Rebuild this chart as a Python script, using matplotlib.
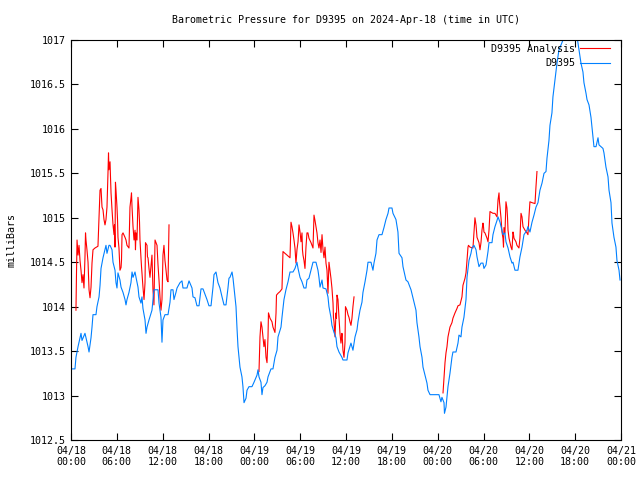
import numpy as np
import matplotlib
matplotlib.use('Agg')
import matplotlib.pyplot as plt
import matplotlib.dates as mdates
from datetime import datetime, timedelta

# hours since 2024-04-18 00:00 UTC, pressure in mb
obs_h = [0.13, 0.52, 0.65, 0.92, 1.18, 1.31, 1.44, 1.83, 1.96, 2.23, 2.36, 2.62, 2.75, 2.88, 3.27, 3.40,
         3.67, 3.80, 3.93, 4.19, 4.45, 4.58, 4.71, 4.97, 5.11, 5.37, 5.50, 5.76, 5.89, 6.02, 6.15, 6.41,
         6.55, 6.81, 7.07, 7.20, 7.33, 7.59, 7.85, 7.99, 8.12, 8.38, 8.51, 8.77, 8.90, 9.16, 9.29, 9.42,
         9.69, 9.82, 9.95, 10.21, 10.60, 10.86, 11.39, 11.52, 11.78, 11.91, 12.04, 12.30, 12.70, 12.96,
         13.09, 13.35, 13.48, 13.74, 13.88, 14.27, 14.53, 14.66, 15.18, 15.45, 15.84, 15.97, 16.23, 16.49,
         16.76, 17.02, 17.28, 17.67, 17.80, 18.06, 18.33, 18.59, 18.72, 18.98, 19.24, 19.50, 19.77, 20.03,
         20.29, 20.55, 20.68, 20.81, 21.08, 21.21, 21.34, 21.60, 21.73, 21.86, 21.99, 22.12, 22.38, 22.51,
         22.65, 22.91, 23.04, 23.30, 23.69, 23.96, 24.35, 24.48, 24.61, 24.87, 25.00, 25.13, 25.39, 25.66,
         25.79, 26.18, 26.44, 26.70, 26.97, 27.10, 27.49, 27.62, 27.88, 28.14, 28.41, 28.67, 29.06, 29.32,
         29.58, 29.72, 29.98, 30.24, 30.50, 30.76, 30.89, 31.15, 31.42, 31.68, 32.07, 32.33, 32.46, 32.60,
         32.86, 32.99, 33.38, 33.64, 33.77, 34.03, 34.16, 34.43, 34.69, 34.82, 35.08, 35.47, 35.60, 36.13,
         36.26, 36.65, 36.78, 36.91, 37.18, 37.44, 37.57, 37.83, 38.09, 38.22, 38.49, 38.75, 38.88, 39.27,
         39.53, 39.66, 39.92, 40.06, 40.32, 40.71, 40.97, 41.23, 41.50, 41.63, 42.02, 42.15, 42.54, 42.80,
         42.94, 43.33, 43.46, 43.85, 44.11, 44.51, 44.77, 45.16, 45.29, 45.55, 45.69, 45.95, 46.08, 46.34,
         46.60, 46.73, 47.00, 48.17, 48.43, 48.56, 48.83, 48.89, 49.09, 49.22, 49.35, 49.61, 49.87, 50.00,
         50.40, 50.66, 50.79, 51.05, 51.18, 51.44, 51.71, 51.84, 52.10, 52.36, 52.49, 52.75, 53.02, 53.15,
         53.41, 53.67, 53.93, 54.06, 54.33, 54.59, 54.72, 55.11, 55.24, 55.50, 55.77, 55.90, 56.16, 56.42,
         56.55, 56.81, 56.94, 57.21, 57.47, 57.73, 57.86, 58.12, 58.51, 58.77, 59.04, 59.30, 59.69, 59.82,
         60.08, 60.35, 60.61, 60.87, 61.13, 61.39, 61.66, 61.92, 62.18, 62.31, 62.57, 62.70, 62.96, 63.09,
         63.36, 63.62, 63.88, 64.27, 64.40, 64.93, 65.58, 66.24, 66.50, 66.76, 67.02, 67.15, 67.42, 67.55,
         67.81, 68.07, 68.20, 68.33, 68.46, 68.73, 68.99, 69.12, 69.38, 69.64, 69.77, 70.03, 70.30, 70.43,
         70.69, 70.82, 71.08, 71.34, 71.47, 71.74, 71.87]
obs_p = [1013.30, 1013.30, 1013.43, 1013.55, 1013.65, 1013.70, 1013.62, 1013.70, 1013.65, 1013.55, 1013.49,
         1013.65, 1013.77, 1013.91, 1013.91, 1014.00, 1014.11, 1014.24, 1014.43, 1014.55, 1014.64, 1014.69,
         1014.60, 1014.69, 1014.69, 1014.64, 1014.50, 1014.41, 1014.27, 1014.21, 1014.38, 1014.30, 1014.22,
         1014.16, 1014.08, 1014.02, 1014.08, 1014.16, 1014.27, 1014.39, 1014.33, 1014.39, 1014.33, 1014.22,
         1014.11, 1014.04, 1014.11, 1013.98, 1013.85, 1013.70, 1013.77, 1013.85, 1013.96, 1014.19, 1014.19,
         1014.04, 1013.88, 1013.60, 1013.85, 1013.91, 1013.91, 1014.05, 1014.19, 1014.19, 1014.08, 1014.16,
         1014.21, 1014.27, 1014.29, 1014.21, 1014.21, 1014.29, 1014.21, 1014.11, 1014.10, 1014.01, 1014.01,
         1014.20, 1014.20, 1014.11, 1014.08, 1014.01, 1014.01, 1014.22, 1014.36, 1014.39, 1014.27, 1014.21,
         1014.11, 1014.02, 1014.02, 1014.21, 1014.32, 1014.33, 1014.39, 1014.32, 1014.21, 1014.00, 1013.76,
         1013.55, 1013.43, 1013.32, 1013.21, 1013.10, 1012.92, 1012.97, 1013.06, 1013.10, 1013.10, 1013.15,
         1013.23, 1013.29, 1013.21, 1013.15, 1013.01, 1013.09, 1013.11, 1013.15, 1013.21, 1013.30, 1013.30,
         1013.43, 1013.51, 1013.66, 1013.77, 1013.88, 1014.08, 1014.19, 1014.28, 1014.39, 1014.39, 1014.43,
         1014.50, 1014.43, 1014.33, 1014.28, 1014.21, 1014.21, 1014.30, 1014.32, 1014.41, 1014.50, 1014.50,
         1014.41, 1014.33, 1014.22, 1014.30, 1014.21, 1014.20, 1014.11, 1014.00, 1013.88, 1013.79, 1013.71,
         1013.65, 1013.55, 1013.49, 1013.43, 1013.40, 1013.40, 1013.48, 1013.59, 1013.55, 1013.51, 1013.66,
         1013.74, 1013.83, 1013.96, 1014.05, 1014.16, 1014.28, 1014.41, 1014.50, 1014.50, 1014.41, 1014.49,
         1014.60, 1014.75, 1014.81, 1014.81, 1014.89, 1014.98, 1015.05, 1015.11, 1015.11, 1015.05, 1014.98,
         1014.84, 1014.60, 1014.55, 1014.45, 1014.30, 1014.28, 1014.19, 1014.10, 1013.96, 1013.82, 1013.66,
         1013.55, 1013.43, 1013.32, 1013.23, 1013.14, 1013.06, 1013.01, 1013.01, 1012.93, 1012.98, 1012.92,
         1012.80, 1012.87, 1012.98, 1013.10, 1013.25, 1013.43, 1013.49, 1013.49, 1013.59, 1013.68, 1013.66,
         1013.77, 1013.88, 1014.08, 1014.33, 1014.52, 1014.60, 1014.66, 1014.69, 1014.64, 1014.56, 1014.45,
         1014.49, 1014.49, 1014.43, 1014.47, 1014.62, 1014.72, 1014.72, 1014.81, 1014.90, 1014.97, 1015.01,
         1014.95, 1014.86, 1014.81, 1014.83, 1014.73, 1014.66, 1014.56, 1014.49, 1014.50, 1014.41, 1014.41,
         1014.56, 1014.67, 1014.81, 1014.86, 1014.90, 1014.84, 1014.95, 1015.03, 1015.12, 1015.17, 1015.31,
         1015.39, 1015.50, 1015.52, 1015.67, 1015.87, 1016.04, 1016.18, 1016.36, 1016.55, 1016.74, 1016.89,
         1016.97, 1017.00, 1017.05, 1017.08, 1017.04, 1016.89, 1016.74, 1016.64, 1016.52, 1016.40, 1016.33,
         1016.27, 1016.13, 1016.02, 1015.91, 1015.80, 1015.80, 1015.90, 1015.82, 1015.80, 1015.78, 1015.73,
         1015.57, 1015.46, 1015.31, 1015.17, 1014.94, 1014.78, 1014.67, 1014.52, 1014.41, 1014.30]

# analysis, three runs
ana1_h = [0.65, 0.72, 0.79, 0.92, 1.05, 1.18, 1.31, 1.44, 1.57, 1.70, 1.83, 1.90, 1.96, 2.09, 2.23, 2.36,
          2.49, 2.62, 2.75, 2.88, 3.14, 3.53, 3.67, 3.80, 3.93, 4.06, 4.19, 4.32, 4.45, 4.58, 4.71, 4.84,
          4.91, 4.97, 5.11, 5.17, 5.24, 5.37, 5.50, 5.63, 5.69, 5.76, 5.82, 5.89, 6.02, 6.09, 6.15, 6.28,
          6.41, 6.55, 6.61, 6.68, 6.81, 7.07, 7.20, 7.33, 7.59, 7.72, 7.85, 7.92, 7.99, 8.12, 8.25, 8.38,
          8.44, 8.51, 8.64, 8.77, 8.90, 8.97, 9.03, 9.16, 9.23, 9.29, 9.42, 9.56, 9.69, 9.75, 9.95, 10.01,
          10.08, 10.21, 10.34, 10.60, 10.73, 10.86, 11.00, 11.26, 11.39, 11.52, 11.65, 11.78, 11.91, 12.04,
          12.17, 12.30, 12.44, 12.57, 12.70, 12.83]
ana1_p = [1013.96, 1014.38, 1014.75, 1014.58, 1014.69, 1014.52, 1014.41, 1014.27, 1014.36, 1014.21, 1014.56,
          1014.83, 1014.75, 1014.64, 1014.50, 1014.19, 1014.10, 1014.22, 1014.49, 1014.64, 1014.66, 1014.68,
          1015.01, 1015.31, 1015.33, 1015.12, 1015.09, 1014.98, 1014.92, 1014.98, 1015.12, 1015.50, 1015.73,
          1015.54, 1015.63, 1015.46, 1015.28, 1015.09, 1014.92, 1014.81, 1014.92, 1014.67, 1015.40, 1015.31,
          1015.12, 1014.98, 1014.78, 1014.66, 1014.41, 1014.44, 1014.52, 1014.81, 1014.83, 1014.78, 1014.75,
          1014.69, 1014.66, 1015.12, 1015.22, 1015.28, 1015.12, 1014.90, 1014.75, 1014.86, 1014.64, 1014.83,
          1014.75, 1015.23, 1015.09, 1014.95, 1014.75, 1014.55, 1014.45, 1014.38, 1014.22, 1014.08, 1014.27,
          1014.72, 1014.69, 1014.56, 1014.55, 1014.43, 1014.33, 1014.58, 1014.19, 1014.02, 1014.75, 1014.69,
          1014.47, 1014.30, 1014.11, 1013.96, 1014.08, 1014.58, 1014.69, 1014.52, 1014.41, 1014.30, 1014.28,
          1014.92]
ana2_h = [24.61, 24.74, 24.87, 25.00, 25.13, 25.26, 25.39, 25.53, 25.66, 25.79, 25.85, 25.92, 26.05, 26.31,
          26.44, 26.70, 26.84, 26.90, 27.10, 27.36, 27.62, 27.75, 28.01, 28.28, 28.67, 28.80, 28.93, 29.06,
          29.19, 29.32, 29.45, 29.58, 29.72, 29.85, 29.98, 30.11, 30.24, 30.30, 30.37, 30.50, 30.63, 30.76,
          30.89, 31.02, 31.15, 31.42, 31.68, 31.74, 31.81, 31.94, 32.07, 32.20, 32.33, 32.46, 32.60, 32.73,
          32.86, 32.99, 33.12, 33.25, 33.38, 33.51, 33.64, 33.77, 33.90, 34.03, 34.16, 34.30, 34.36, 34.43,
          34.56, 34.69, 34.75, 34.82, 34.95, 35.08, 35.21, 35.34, 35.47, 35.53, 35.60, 35.74, 35.87, 35.93,
          36.13, 36.26, 36.39, 36.52, 36.65, 36.78, 36.91, 37.05]
ana2_p = [1013.27, 1013.66, 1013.83, 1013.77, 1013.66, 1013.55, 1013.63, 1013.43, 1013.37, 1013.66, 1013.93,
          1013.91, 1013.87, 1013.83, 1013.77, 1013.71, 1013.93, 1014.13, 1014.15, 1014.17, 1014.20, 1014.62,
          1014.60, 1014.58, 1014.55, 1014.95, 1014.90, 1014.83, 1014.75, 1014.66, 1014.49, 1014.64, 1014.73,
          1014.92, 1014.84, 1014.73, 1014.83, 1014.64, 1014.58, 1014.52, 1014.43, 1014.67, 1014.83, 1014.83,
          1014.77, 1014.72, 1014.66, 1014.83, 1015.03, 1014.97, 1014.90, 1014.83, 1014.72, 1014.66, 1014.75,
          1014.61, 1014.81, 1014.64, 1014.55, 1014.67, 1014.49, 1014.41, 1014.15, 1014.50, 1014.41, 1014.32,
          1014.21, 1014.04, 1013.88, 1013.83, 1013.66, 1013.93, 1013.87, 1014.13, 1014.08, 1013.88, 1013.70,
          1013.59, 1013.70, 1013.63, 1013.51, 1013.43, 1013.60, 1014.00, 1013.96, 1013.91, 1013.88, 1013.83,
          1013.79, 1013.87, 1014.00, 1014.11]
ana3_h = [48.70, 48.83, 48.96, 49.09, 49.22, 49.35, 49.61, 49.87, 50.00, 50.27, 50.53, 50.66, 50.92, 51.18,
          51.31, 51.58, 51.71, 51.84, 51.97, 52.03, 52.23, 52.62, 52.75, 52.88, 53.02, 53.15, 53.41, 53.54,
          53.67, 53.80, 53.93, 54.00, 54.06, 54.19, 54.46, 54.59, 54.72, 54.85, 55.24, 55.50, 55.77, 55.90,
          56.03, 56.09, 56.16, 56.29, 56.42, 56.55, 56.62, 56.68, 56.81, 56.94, 57.07, 57.14, 57.21, 57.34,
          57.60, 57.73, 57.86, 57.93, 57.99, 58.25, 58.38, 58.64, 58.77, 58.91, 59.04, 59.17, 59.43, 59.69,
          59.82, 59.95, 60.08, 60.35, 60.74, 60.87, 61.00]
ana3_p = [1013.03, 1013.20, 1013.37, 1013.48, 1013.55, 1013.66, 1013.77, 1013.82, 1013.87, 1013.93, 1013.98,
          1014.01, 1014.02, 1014.11, 1014.24, 1014.32, 1014.38, 1014.52, 1014.67, 1014.69, 1014.67, 1014.66,
          1014.83, 1015.00, 1014.92, 1014.78, 1014.72, 1014.64, 1014.72, 1014.86, 1014.94, 1014.90, 1014.84,
          1014.83, 1014.77, 1014.73, 1014.86, 1015.07, 1015.05, 1015.05, 1015.01, 1015.20, 1015.28, 1015.18,
          1015.12, 1015.00, 1014.84, 1014.77, 1014.67, 1014.89, 1014.83, 1015.18, 1015.11, 1015.01, 1014.86,
          1014.77, 1014.67, 1014.64, 1014.84, 1014.81, 1014.77, 1014.73, 1014.69, 1014.66, 1014.77, 1015.05,
          1015.01, 1014.90, 1014.86, 1014.83, 1014.81, 1015.01, 1015.18, 1015.17, 1015.16, 1015.35, 1015.52]

t0 = datetime(2024, 4, 18)
def to_dt(hours):
    return [t0 + timedelta(hours=h) for h in hours]

plt.rcParams['font.family'] = 'DejaVu Sans Mono'
plt.rcParams['font.size'] = 7.2

fig = plt.figure(figsize=(6.4, 4.8), dpi=100)
ax = fig.add_axes([71/640, 40/480, 550/640, 400/480])

# analysis drawn as separate runs (gaps between them)
ax.plot(to_dt(ana1_h), ana1_p, color='#ff0000', lw=0.8, label='D9395 Analysis')
ax.plot(to_dt(ana2_h), ana2_p, color='#ff0000', lw=0.8)
ax.plot(to_dt(ana3_h), ana3_p, color='#ff0000', lw=0.8)
ax.plot(to_dt(obs_h), obs_p, color='#0080ff', lw=0.8, label='D9395')

ax.set_xlim(t0, t0 + timedelta(hours=72))
ax.set_ylim(1012.5, 1017)
ax.xaxis.set_major_locator(mdates.HourLocator(byhour=[0, 6, 12, 18]))
ax.xaxis.set_major_formatter(mdates.DateFormatter('%m/%d\n%H:%M'))
ax.set_yticks(np.arange(1012.5, 1017.01, 0.5))
ax.yaxis.set_major_formatter(plt.FuncFormatter(lambda v, p: '%g' % v))
ax.tick_params(direction='in', length=5, width=0.8, top=True, right=True, labelsize=7.2, pad=4)
for s in ax.spines.values():
    s.set_linewidth(0.8)

ax.set_ylabel('milliBars', labelpad=9)
ax.set_title('Barometric Pressure for D9395 on 2024-Apr-18 (time in UTC)', fontsize=7.2, pad=12)

ax.legend(loc='upper right', bbox_to_anchor=(1 - 7/550, 1), frameon=False, markerfirst=False,
          handlelength=3.0, handletextpad=0.5, borderaxespad=0.2, borderpad=0.2,
          labelspacing=0.45, fontsize=7.2)

plt.savefig('out.png', dpi=100)
